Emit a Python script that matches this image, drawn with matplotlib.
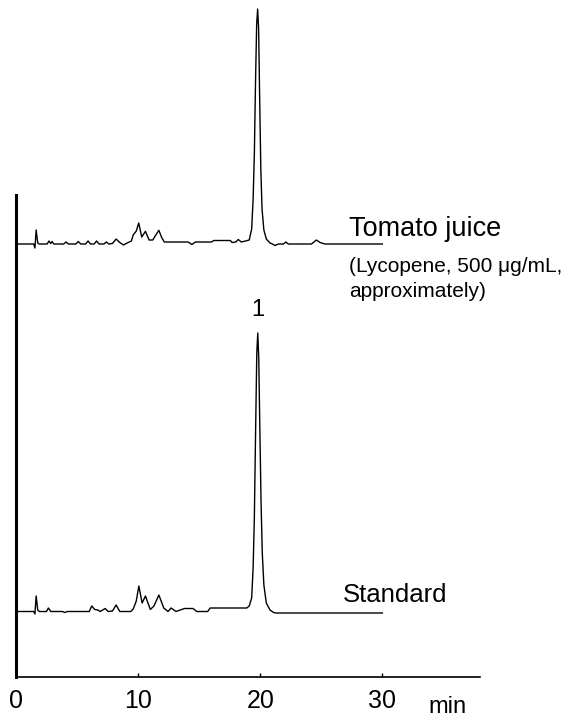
import matplotlib.pyplot as plt
import numpy as np

plt.rcParams['font.family'] = ['Liberation Sans', 'DejaVu Sans']

# chromatogram traces, time in min, signal (arbitrary units)
tomato_t = [0, 1.45, 1.55, 1.65, 1.78, 1.9, 2.55, 2.7, 2.85, 2.95, 3.1, 3.9, 4.1, 4.3,
            4.9, 5.1, 5.3, 5.7, 5.9, 6.1, 6.4, 6.6, 6.8, 7.2, 7.4, 7.6, 7.9, 8.2, 8.5,
            8.8, 9.1, 9.45, 9.6, 9.85, 10.05, 10.3, 10.6, 10.9, 11.2, 11.45, 11.7, 11.95,
            12.15, 14.1, 14.4, 14.7, 16.0, 16.2, 17.55, 17.7, 18.0, 18.2, 18.45, 18.8,
            19.1, 19.3, 19.42, 19.52, 19.62, 19.71, 19.79, 19.87, 19.95, 20.05, 20.15,
            20.3, 20.5, 20.8, 21.0, 21.2, 21.5, 21.9, 22.1, 22.3, 24.2, 24.6, 24.9,
            25.3, 30]
tomato_y = [0, 0, -4, 14, 1, 0, 0, 3, 0.5, 2.5, 0, 0, 2, 0,
            0, 2.5, 0, 0, 3, 0, 0, 3, 0, 0, 2, 0, 0.5, 5, 1.5,
            -1, 1, 3, 9, 13, 21, 7, 12.7, 4, 4, 9, 13.7, 6,
            2, 2, -0.5, 2, 2, 3.5, 3.5, 1.5, 2, 4.5, 2, 3,
            4, 15, 45, 90, 165, 220, 235, 215, 150, 75, 35,
            14, 5, 1, 0, -1.5, 0, 0, 2, 0, 0, 4, 1.5,
            0, 0]

standard_t = [0, 1.45, 1.55, 1.65, 1.78, 1.9, 2.5, 2.65, 2.85, 3.8, 4.0, 4.2, 6.0, 6.2,
              6.45, 6.7, 6.9, 7.3, 7.55, 7.9, 8.2, 8.5, 9.4, 9.6, 9.85, 10.06, 10.33,
              10.6, 11.0, 11.3, 11.7, 12.1, 12.45, 12.7, 13.1, 13.8, 14.5, 14.8, 15.7,
              15.9, 18.9, 19.1, 19.3, 19.42, 19.52, 19.62, 19.72, 19.8, 19.88, 19.97,
              20.07, 20.17, 20.3, 20.5, 20.8, 21.1, 21.3, 30]
standard_y = [1.5, 1.5, -1, 17, 3, 1.5, 1.5, 5, 1.5, 1.5, 0.5, 1.5, 1.5, 7,
              3.5, 3, 1.5, 4.5, 1.5, 2, 8, 1.5, 1.5, 4, 12, 27, 10,
              17, 3.5, 7, 18, 5, 1.5, 5, 1.5, 4.5, 4.5, 1.5, 1.5,
              5, 5, 7, 15, 45, 95, 180, 260, 280, 255, 185,
              110, 60, 28, 10, 3, 0.5, 0, 0]

tomato_offset = 433
standard_offset = 64
xticks = [0, 10, 20, 30]

fig = plt.figure(figsize=(5.66, 7.17), dpi=100)
ax = fig.add_axes([16 / 566, 40 / 717, 464 / 566, 677 / 717])

ax.plot(tomato_t, np.array(tomato_y) + tomato_offset, color='black', lw=1.0)
ax.plot(standard_t, np.array(standard_y) + standard_offset, color='black', lw=1.0)

ax.set_xlim(0, 38)
ax.set_ylim(0, 677)

# axes: thick left line, thin bottom line, small ticks pointing up
for s in ['top', 'right']:
    ax.spines[s].set_visible(False)
ax.spines['left'].set_linewidth(2.2)
ax.spines['left'].set_bounds(0, 482)
ax.spines['bottom'].set_linewidth(1.2)
ax.set_yticks([])
ax.set_xticks(xticks)
ax.set_xticklabels([str(v) for v in xticks], fontsize=18)
ax.tick_params(axis='x', direction='in', length=3, width=1, pad=9)

# labels
ax.text(27.27, 441, 'Tomato juice', fontsize=19.5, va='baseline', ha='left')
ax.text(27.27, 405, '(Lycopene, 500 μg/mL,', fontsize=15, va='baseline', ha='left')
ax.text(27.27, 380, 'approximately)', fontsize=15, va='baseline', ha='left')
ax.text(26.8, 75, 'Standard', fontsize=18.5, va='baseline', ha='left')
ax.text(19.82, 361, '1', fontsize=17, va='baseline', ha='center')
ax.text(33.8, -36, 'min', fontsize=17, va='baseline', ha='left', clip_on=False)

fig.savefig('out.png', dpi=100)
